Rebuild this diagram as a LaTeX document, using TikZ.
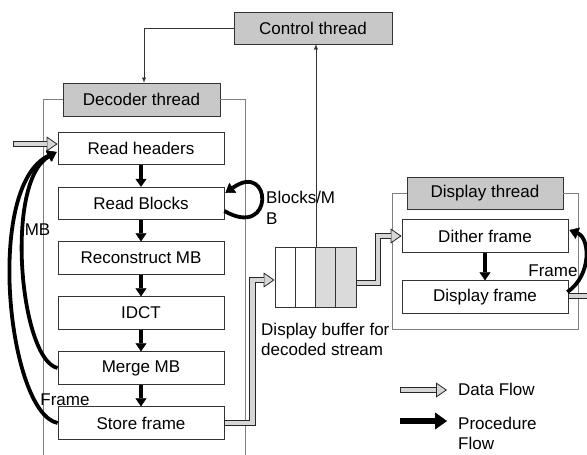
\documentclass[tikz,border=0pt]{standalone}
\usepackage{fontspec}
\setmainfont{Liberation Sans}
\usetikzlibrary{arrows.meta,calc}
\definecolor{threadgray}{RGB}{200,200,200}
\definecolor{flowgray}{RGB}{214,214,214}
\definecolor{bufgray}{RGB}{218,218,218}
\definecolor{framegray}{RGB}{128,128,128}
\tikzset{
  txt/.style={font=\fontsize{17}{20.5}\selectfont},
  stage/.style={txt, draw=black!80, line width=0.8pt, fill=white,
    minimum width=166pt, minimum height=32.5pt, inner sep=0pt},
  thread/.style={stage, fill=threadgray},
  cell/.style={draw=black!80, line width=0.8pt, minimum width=20.25pt,
    minimum height=60pt, inner sep=0pt},
  lbl/.style={txt, inner sep=0pt},
  frameline/.style={draw=framegray, line width=0.9pt},
  ctrl/.style={draw=black!80, line width=0.7pt,
    -{Latex[length=5pt,width=4pt,line width=0.3pt]}},
  proc/.style={draw=black, line width=3.6pt,
    -{Triangle[length=8pt,width=11pt,line width=0.4pt]}},
  loopflow/.style={draw=black, line width=3.8pt,
    -{Triangle[length=9pt,width=12pt,line width=0.4pt]}},
  bigproc/.style={draw=black, line width=6pt,
    -{Triangle[length=12pt,width=17pt,line width=0.4pt]}},
  dfout/.style={draw=black!85, line width=6.5pt, line join=miter,
    -{Triangle[length=11pt,width=15pt,line width=0.8pt,fill=flowgray]}},
  dfin/.style={draw=flowgray, line width=4.9pt, line join=miter,
    shorten >=10.6pt, shorten <=0.8pt},
}
% data flow: grey shaft with a black outline and an outlined head
\newcommand\dataflow[1]{\draw[dfout] #1; \draw[dfin] #1;}

\begin{document}
\begin{tikzpicture}[x=1pt,y=-1pt]
\useasboundingbox (0,0) rectangle (587,455);
\clip (0,0) rectangle (587,455);

% control thread
\node[thread, minimum width=158pt, minimum height=32pt] (ct) at (313,28) {Control thread};

% decoder thread and its stages
\node[thread, minimum width=157pt, minimum height=33pt] (dt) at (141.5,99.5) {Decoder thread};
\draw[frameline] (dt.west) -- (43,99.5) -- (43,460);
\draw[frameline] (dt.east) -- (245,99.5) -- (245,460);

\node[stage] (rh) at (141,148.5) {Read headers};
\node[stage] (rb) at (141,203.5) {Read Blocks};
\node[stage] (rc) at (141,258)   {Reconstruct MB};
\node[stage] (id) at (141,313)   {IDCT};
\node[stage] (mm) at (141,368)   {Merge MB};
\node[stage] (sf) at (141,423)   {Store frame};

\draw[proc] (rh.south) -- (rb.north);
\draw[proc] (rb.south) -- (rc.north);
\draw[proc] (rc.south) -- (id.north);
\draw[proc] (id.south) -- (mm.north);
\draw[proc] (mm.south) -- (sf.north);

% loops back to the header stage
\coordinate (rhin) at ($(rh.west)+(-1,3.5)$);
\draw[loopflow] (mm.west) .. controls (20,360) and (4,182) .. (rhin);
\draw[loopflow] (sf.west) .. controls (8,413) and (-16,186) .. (rhin);
\node[lbl] (mbl) at (37.5,230) {MB};
\node[lbl] (frl) at (65,399.5) {Frame};

% block loop on the read-blocks stage
\draw[loopflow] ($(rb.east)+(0,7.5)$) .. controls (275,240) and (272,160) .. ($(rb.east)+(1,-10.5)$);
\node[lbl, anchor=north west, align=left] (bml) at (266,191) {Blocks/M\\B};

% input stream
\coordinate (src) at (13,144);
\dataflow{(src) -- ($(rh.west)+(0,-4.5)$)}

% display buffer
\node[cell] (c1) at (285.1,277.5) {};
\node[cell] (c2) at (305.4,277.5) {};
\node[cell, fill=bufgray] (c3) at (325.6,277.5) {};
\node[cell, fill=bufgray] (c4) at (345.9,277.5) {};
\node[lbl, anchor=north west, align=left] (bufl) at (261,322.5) {Display buffer for\\decoded stream};

\draw[ctrl] (c2.north east) -- (c2.north east |- ct.south);
\draw[ctrl] (ct.west) -| ($(dt.north)+(2.5,0)$);

\dataflow{(sf.east) -- (252.5,423) |- ($(c1.west)+(0,2.5)$)}

% display thread
\node[thread, minimum width=156pt, minimum height=32pt] (dth) at (485,193) {Display thread};
\draw[frameline] (dth.west) -| (392,329) -| (578,193) -- (dth.east);
\node[stage] (dif) at (485,236) {Dither frame};
\node[stage] (dpf) at (485,297) {Display frame};
\draw[proc] (dif.south) -- (dpf.north);

\dataflow{($(c4.east)+(0,5.5)$) -- (378,283) |- (dif.west)}

\draw[loopflow] ($(dpf.east)+(-1,-5)$) .. controls (592,275) and (590,238) .. ($(dif.east)+(1,-6)$);
\node[lbl] (frl2) at (553,270.5) {Frame};

\coordinate (out) at (602,296);
\dataflow{($(dpf.east)+(0,-1)$) -- (out)}

% legend
\coordinate (la1) at (400,390);
\coordinate (lb1) at (447,390);
\coordinate (la2) at (400,421);
\coordinate (lb2) at (447,421);
\dataflow{(la1) -- (lb1)}
\draw[bigproc] (la2) -- (lb2);
\node[lbl, anchor=west] (ldf) at (458,389.5) {Data Flow};
\node[lbl, anchor=north west, align=left] (lpf) at (458,416.5) {Procedure\\Flow};
\end{tikzpicture}
\end{document}
